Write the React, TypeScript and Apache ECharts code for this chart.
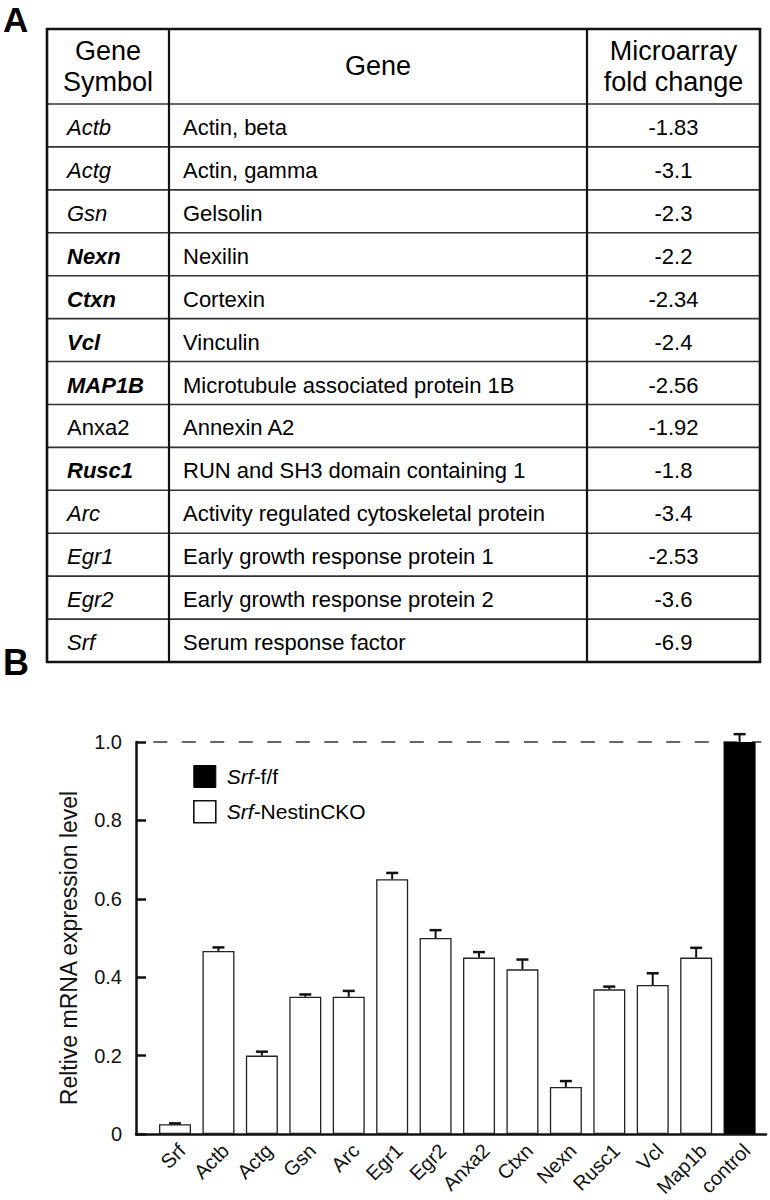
import React, { useEffect, useRef } from "react";
import * as echarts from "echarts";

// ---------- Table (panel A) data ----------
const geneSymbols = ["Actb", "Actg", "Gsn", "Nexn", "Ctxn", "Vcl", "MAP1B", "Anxa2", "Rusc1", "Arc", "Egr1", "Egr2", "Srf"];
const geneNames = [
  "Actin, beta",
  "Actin, gamma",
  "Gelsolin",
  "Nexilin",
  "Cortexin",
  "Vinculin",
  "Microtubule associated protein 1B",
  "Annexin A2",
  "RUN and SH3 domain containing 1",
  "Activity regulated cytoskeletal protein",
  "Early growth response protein 1",
  "Early growth response protein 2",
  "Serum response factor",
];
const foldChanges = ["-1.83", "-3.1", "-2.3", "-2.2", "-2.34", "-2.4", "-2.56", "-1.92", "-1.8", "-3.4", "-2.53", "-3.6", "-6.9"];
const boldSymbols = ["Nexn", "Ctxn", "Vcl", "MAP1B", "Rusc1"];
const uprightSymbols = ["Anxa2"];

// ---------- Bar chart (panel B) data ----------
const categories = ["Srf", "Actb", "Actg", "Gsn", "Arc", "Egr1", "Egr2", "Anxa2", "Ctxn", "Nexn", "Rusc1", "Vcl", "Map1b", "control"];
const ckoValues = [0.025, 0.467, 0.2, 0.35, 0.35, 0.65, 0.5, 0.45, 0.42, 0.12, 0.369, 0.38, 0.45];
const ckoErrors = [0.002, 0.009, 0.01, 0.006, 0.015, 0.016, 0.02, 0.014, 0.025, 0.015, 0.007, 0.03, 0.025];
const controlValue = 1.0;
const controlError = 0.02;
const yTicks = [0, 0.2, 0.4, 0.6, 0.8, 1.0];

const FONT = '"Liberation Sans", Arial, Helvetica, sans-serif';

function buildTableGraphics() {
  const L = 47, R = 760, T = 29, HB = 104, B = 662;
  const c1 = 169, c2 = 587;
  const n = geneSymbols.length;
  const rowH = (B - HB) / n;
  const els: any[] = [];
  els.push({ type: "text", x: 3, y: 2, style: { text: "A", fontSize: 35, fontWeight: "bold", fontFamily: FONT, fill: "#000", align: "left", verticalAlign: "top" } });
  els.push({ type: "text", x: 3, y: 662, style: { text: "B", fontSize: 36, fontWeight: "bold", fontFamily: FONT, fill: "#000", align: "left", verticalAlign: "middle" } });
  // row lines
  for (let i = 0; i < n; i++) {
    const y = HB + rowH * i;
    els.push({ type: "line", shape: { x1: L, y1: y, x2: R, y2: y }, style: { stroke: "#333", lineWidth: 1.6 } });
  }
  els.push({ type: "line", shape: { x1: c1, y1: T, x2: c1, y2: B }, style: { stroke: "#111", lineWidth: 2.2 } });
  els.push({ type: "line", shape: { x1: c2, y1: T, x2: c2, y2: B }, style: { stroke: "#111", lineWidth: 2.2 } });
  els.push({ type: "rect", shape: { x: L, y: T, width: R - L, height: B - T }, style: { fill: "none", stroke: "#111", lineWidth: 2.6 } });
  // headers
  const hs = { fontSize: 27, fontFamily: FONT, fill: "#000", align: "center", verticalAlign: "middle" };
  els.push({ type: "text", x: (L + c1) / 2, y: 51, style: { ...hs, text: "Gene" } });
  els.push({ type: "text", x: (L + c1) / 2, y: 82, style: { ...hs, text: "Symbol" } });
  els.push({ type: "text", x: (c1 + c2) / 2, y: 66, style: { ...hs, text: "Gene" } });
  els.push({ type: "text", x: (c2 + R) / 2, y: 51, style: { ...hs, text: "Microarray" } });
  els.push({ type: "text", x: (c2 + R) / 2, y: 82, style: { ...hs, text: "fold change" } });
  for (let i = 0; i < n; i++) {
    const cy = HB + rowH * (i + 0.5) + 2;
    const sym = geneSymbols[i];
    const isBold = boldSymbols.indexOf(sym) >= 0;
    const isUpright = uprightSymbols.indexOf(sym) >= 0;
    els.push({
      type: "text", x: 67, y: cy,
      style: { text: sym, fontSize: 22, fontFamily: FONT, fontStyle: isUpright ? "normal" : "italic", fontWeight: isBold ? "bold" : "normal", fill: "#000", align: "left", verticalAlign: "middle" },
    });
    els.push({ type: "text", x: 183, y: cy, style: { text: geneNames[i], fontSize: 22, fontFamily: FONT, fill: "#000", align: "left", verticalAlign: "middle" } });
    els.push({ type: "text", x: (c2 + R) / 2, y: cy, style: { text: foldChanges[i], fontSize: 22, fontFamily: FONT, fill: "#000", align: "center", verticalAlign: "middle" } });
  }
  return els;
}

export default function App() {
  const ref = useRef<HTMLDivElement>(null);
  useEffect(() => {
    document.body.style.margin = "0";
    if (!ref.current) return;
    const chart = echarts.init(ref.current, undefined, { renderer: "svg" });
    const nG = ckoValues.length;
    const whiteData: any[] = ckoValues.map((v) => v).concat(["-"]);
    const blackData: any[] = ckoValues.map(() => "-").concat([controlValue]);
    const errData = ckoValues.map((v, i) => [i, v, ckoErrors[i]]).concat([[nG, controlValue, controlError]]);

    const option: any = {
      animation: false,
      textStyle: { fontFamily: FONT },
      graphic: buildTableGraphics(),
      grid: [
        // data grid (bars + visible y axis, shifted left with offset)
        { left: 153.3, width: 608, top: 742, bottom: 66, containLabel: false, outerBoundsMode: "none" },
        // decoration grid: only the long baseline of the x axis
        { left: 136, right: 4, top: 742, bottom: 66, containLabel: false, outerBoundsMode: "none" },
      ],
      legend: {
        orient: "vertical",
        left: 193,
        top: 765,
        padding: 0,
        itemWidth: 22,
        itemHeight: 22,
        itemGap: 12,
        icon: "rect",
        selectedMode: false,
        data: [
          { name: "Srf-f/f", itemStyle: { color: "#000", borderColor: "#000", borderWidth: 1 } },
          { name: "Srf-NestinCKO", itemStyle: { color: "#fff", borderColor: "#111", borderWidth: 1.6 } },
        ],
        formatter: (name: string) => `{it|Srf}{nm|${name.replace(/^Srf/, "")}}`,
        textStyle: {
          fontSize: 21,
          color: "#000",
          padding: [0, 0, 0, 6],
          rich: {
            it: { fontSize: 21, fontStyle: "italic", fontFamily: FONT, color: "#000" },
            nm: { fontSize: 21, fontFamily: FONT, color: "#000" },
          },
        },
      },
      xAxis: [
        {
          type: "category", gridIndex: 0, data: categories, boundaryGap: true,
          axisLine: { show: false }, axisTick: { show: false }, splitLine: { show: false },
          axisLabel: { rotate: 45, fontSize: 20, color: "#111", margin: 6, interval: 0, verticalAlign: "top", fontFamily: FONT },
        },
        {
          type: "value", gridIndex: 1, min: 0, max: 1,
          axisLine: { show: true, lineStyle: { color: "#111", width: 2.5 } },
          axisTick: { show: false }, axisLabel: { show: false }, splitLine: { show: false },
        },
      ],
      yAxis: [
        {
          type: "value", gridIndex: 0, min: 0, max: 1, interval: 0.2, offset: 17.3,
          axisLine: { show: true, lineStyle: { color: "#111", width: 2.5 } },
          axisTick: { show: true, inside: true, length: 10, lineStyle: { color: "#111", width: 2.5 } },
          splitLine: { show: false },
          axisLabel: { fontSize: 20, color: "#111", margin: 14, fontFamily: FONT, formatter: (v: number) => (v === 0 ? "0" : v.toFixed(1)) },
          name: "Reltive mRNA expression level",
          nameLocation: "middle",
          nameGap: 56,
          nameTextStyle: { fontSize: 23, color: "#111", fontFamily: FONT, padding: [0, 20, 0, 0] },
        },
        { type: "value", gridIndex: 1, min: 0, max: 1, show: false },
      ],
      series: [
        {
          name: "Srf-NestinCKO", type: "bar", xAxisIndex: 0, yAxisIndex: 0, data: whiteData,
          barWidth: 32, barGap: "-100%", z: 2,
          itemStyle: { color: "#fff", borderColor: "#222", borderWidth: 1.3 },
          markLine: {
            z: 1, silent: true, symbol: ["none", "none"], label: { show: false },
            lineStyle: { type: [14, 14.5], color: "#333", width: 1.6 },
            data: [{ yAxis: yTicks[yTicks.length - 1] }],
          },
        },
        {
          name: "Srf-f/f", type: "bar", xAxisIndex: 0, yAxisIndex: 0, data: blackData,
          barWidth: 32, barGap: "-100%", z: 3,
          itemStyle: { color: "#000", borderColor: "#000", borderWidth: 1 },
        },
        {
          name: "err", type: "custom", xAxisIndex: 0, yAxisIndex: 0, z: 4, data: errData,
          encode: { x: 0, y: 1 },
          renderItem: (params: any, api: any) => {
            const x = api.value(0), v = api.value(1), e = api.value(2);
            const base = api.coord([x, v]);
            const top = api.coord([x, v + e]);
            const half = 6;
            return {
              type: "group",
              children: [
                { type: "line", shape: { x1: base[0], y1: base[1], x2: top[0], y2: top[1] }, style: { stroke: "#111", lineWidth: 2 } },
                { type: "line", shape: { x1: top[0] - half, y1: top[1], x2: top[0] + half, y2: top[1] }, style: { stroke: "#111", lineWidth: 2.5 } },
              ],
            };
          },
        },
      ],
    };
    chart.setOption(option);
    return () => chart.dispose();
  }, []);
  return <div ref={ref} style={{ width: 770, height: 1200 }} />;
}
